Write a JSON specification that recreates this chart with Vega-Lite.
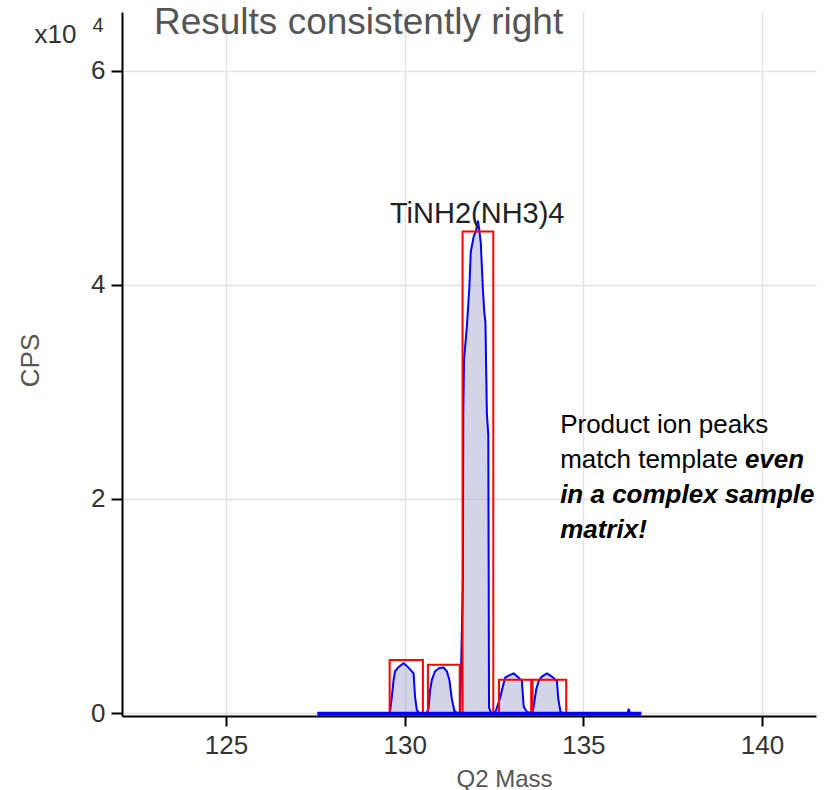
{
  "$schema": "https://vega.github.io/schema/vega-lite/v6.json",
  "width": 694,
  "height": 704,
  "autosize": "none",
  "padding": {"left": 122, "top": 12, "right": 18, "bottom": 74},
  "background": "white",
  "config": {
    "view": {"stroke": null},
    "font": "Liberation Sans",
    "axis": {
      "domainColor": "#000000",
      "domainWidth": 2,
      "tickColor": "#000000",
      "tickWidth": 2,
      "tickSize": 10,
      "labelFont": "Liberation Sans",
      "labelFontSize": 26,
      "labelColor": "#333333",
      "labelPadding": 6,
      "gridColor": "#e2e2e2",
      "gridWidth": 1.5,
      "titleFont": "Liberation Sans",
      "titleFontWeight": "normal",
      "titleColor": "#555555"
    }
  },
  "datasets": {
    "spectrum": [
      {"mass": 127.56, "cps": 0},
      {"mass": 129.55, "cps": 0},
      {"mass": 129.59, "cps": 0.01},
      {"mass": 129.64, "cps": 0.15},
      {"mass": 129.69, "cps": 0.31},
      {"mass": 129.73, "cps": 0.39},
      {"mass": 129.83, "cps": 0.43},
      {"mass": 129.97, "cps": 0.465},
      {"mass": 130.06, "cps": 0.44},
      {"mass": 130.17, "cps": 0.40},
      {"mass": 130.25, "cps": 0.37},
      {"mass": 130.29, "cps": 0.15},
      {"mass": 130.34, "cps": 0.03},
      {"mass": 130.40, "cps": 0},
      {"mass": 130.62, "cps": 0},
      {"mass": 130.67, "cps": 0.05},
      {"mass": 130.71, "cps": 0.21},
      {"mass": 130.76, "cps": 0.31},
      {"mass": 130.85, "cps": 0.39},
      {"mass": 130.97, "cps": 0.42},
      {"mass": 131.09, "cps": 0.425},
      {"mass": 131.18, "cps": 0.39},
      {"mass": 131.25, "cps": 0.31},
      {"mass": 131.32, "cps": 0.13},
      {"mass": 131.39, "cps": 0.02},
      {"mass": 131.47, "cps": 0},
      {"mass": 131.55, "cps": 0},
      {"mass": 131.58, "cps": 0.43},
      {"mass": 131.63, "cps": 1.25},
      {"mass": 131.64, "cps": 2.8},
      {"mass": 131.66, "cps": 3.3},
      {"mass": 131.74, "cps": 3.61},
      {"mass": 131.81, "cps": 3.98},
      {"mass": 131.85, "cps": 4.31},
      {"mass": 131.93, "cps": 4.45},
      {"mass": 132.00, "cps": 4.51},
      {"mass": 132.05, "cps": 4.6},
      {"mass": 132.09, "cps": 4.51},
      {"mass": 132.13, "cps": 4.39},
      {"mass": 132.19, "cps": 3.95},
      {"mass": 132.23, "cps": 3.74},
      {"mass": 132.26, "cps": 3.65},
      {"mass": 132.30, "cps": 2.8},
      {"mass": 132.34, "cps": 2.6},
      {"mass": 132.36, "cps": 0.05},
      {"mass": 132.42, "cps": 0},
      {"mass": 132.52, "cps": 0},
      {"mass": 132.56, "cps": 0.03},
      {"mass": 132.67, "cps": 0.14},
      {"mass": 132.72, "cps": 0.21},
      {"mass": 132.81, "cps": 0.33},
      {"mass": 132.91, "cps": 0.35},
      {"mass": 133.05, "cps": 0.37},
      {"mass": 133.19, "cps": 0.33},
      {"mass": 133.28, "cps": 0.30},
      {"mass": 133.33, "cps": 0.06},
      {"mass": 133.42, "cps": 0.01},
      {"mass": 133.52, "cps": 0},
      {"mass": 133.57, "cps": 0},
      {"mass": 133.61, "cps": 0.06},
      {"mass": 133.68, "cps": 0.22},
      {"mass": 133.75, "cps": 0.30},
      {"mass": 133.84, "cps": 0.34},
      {"mass": 133.98, "cps": 0.37},
      {"mass": 134.12, "cps": 0.34},
      {"mass": 134.26, "cps": 0.30},
      {"mass": 134.30, "cps": 0.13},
      {"mass": 134.36, "cps": 0.01},
      {"mass": 134.42, "cps": 0},
      {"mass": 136.24, "cps": 0},
      {"mass": 136.27, "cps": 0.04},
      {"mass": 136.30, "cps": 0},
      {"mass": 136.62, "cps": 0}
    ],
    "templates": [
      {"mass": 129.58, "mass_end": 130.51, "cps": 0.495},
      {"mass": 130.65, "mass_end": 131.54, "cps": 0.45},
      {"mass": 131.62, "mass_end": 132.48, "cps": 4.5},
      {"mass": 132.64, "mass_end": 133.54, "cps": 0.31},
      {"mass": 133.58, "mass_end": 134.52, "cps": 0.31}
    ]
  },
  "layer": [
    {
      "data": {"name": "spectrum"},
      "mark": {"type": "area", "fill": "#a9a9cd", "opacity": 0.5, "interpolate": "linear"},
      "encoding": {
        "x": {
          "field": "mass", "type": "quantitative",
          "scale": {"domain": [122.09, 141.51], "nice": false, "zero": false},
          "axis": {"values": [125, 130, 135, 140], "format": "d", "title": "Q2 Mass", "titleFontSize": 24, "titleX": 382, "titleY": 70, "titleBaseline": "alphabetic"}
        },
        "y": {
          "field": "cps", "type": "quantitative",
          "scale": {"domain": [-0.028, 6.55], "nice": false, "zero": false},
          "axis": {"values": [0, 2, 4, 6], "format": "d", "title": "CPS", "titleFontSize": 26, "titleX": -92, "titleY": 348, "titleBaseline": "middle", "tickSize": 11}
        }
      }
    },
    {
      "data": {"name": "spectrum"},
      "mark": {"type": "line", "color": "#0000ff", "strokeWidth": 2, "interpolate": "linear"},
      "encoding": {
        "x": {"field": "mass", "type": "quantitative", "title": "Q2 Mass"},
        "y": {"field": "cps", "type": "quantitative", "title": "CPS"}
      }
    },
    {
      "data": {"name": "templates"},
      "mark": {"type": "rect", "fill": null, "fillOpacity": 0, "stroke": "#ff0000", "strokeWidth": 2},
      "encoding": {
        "x": {"field": "mass", "type": "quantitative", "title": "Q2 Mass"},
        "x2": {"field": "mass_end"},
        "y": {"field": "cps", "type": "quantitative", "title": "CPS"},
        "y2": {"datum": 0}
      }
    },
    {
      "data": {"values": [{}]},
      "mark": {"type": "rule", "color": "#0000ff", "strokeWidth": 4},
      "encoding": {
        "x": {"datum": 127.56, "type": "quantitative"},
        "x2": {"datum": 136.62},
        "y": {"datum": -0.008, "type": "quantitative"}
      }
    },
    {
      "data": {"values": [{}]},
      "mark": {"type": "text", "text": "Results consistently right", "font": "Liberation Sans", "fontSize": 37, "color": "#555555", "align": "left", "baseline": "alphabetic"},
      "encoding": {"x": {"datum": 122.985, "type": "quantitative"}, "y": {"datum": 6.345, "type": "quantitative"}}
    },
    {
      "data": {"values": [{}]},
      "mark": {"type": "text", "text": "x10", "font": "Liberation Sans", "fontSize": 26, "color": "#333333", "align": "center", "baseline": "alphabetic"},
      "encoding": {"x": {"datum": 120.23, "type": "quantitative"}, "y": {"datum": 6.26, "type": "quantitative"}}
    },
    {
      "data": {"values": [{}]},
      "mark": {"type": "text", "text": "4", "font": "Liberation Sans", "fontSize": 20, "color": "#333333", "align": "center", "baseline": "alphabetic"},
      "encoding": {"x": {"datum": 121.42, "type": "quantitative"}, "y": {"datum": 6.36, "type": "quantitative"}}
    },
    {
      "data": {"values": [{}]},
      "mark": {"type": "text", "text": "TiNH2(NH3)4", "font": "Liberation Sans", "fontSize": 29, "color": "#222222", "align": "center", "baseline": "alphabetic"},
      "encoding": {"x": {"datum": 132.03, "type": "quantitative"}, "y": {"datum": 4.58, "type": "quantitative"}}
    },
    {
      "data": {"values": [{}]},
      "mark": {"type": "text", "text": "Product ion peaks", "font": "Liberation Sans", "fontSize": 26, "color": "#000000", "align": "left", "baseline": "alphabetic"},
      "encoding": {"x": {"datum": 134.35, "type": "quantitative"}, "y": {"datum": 2.616, "type": "quantitative"}}
    },
    {
      "data": {"values": [{}]},
      "mark": {"type": "text", "text": "match template", "font": "Liberation Sans", "fontSize": 26, "color": "#000000", "align": "left", "baseline": "alphabetic"},
      "encoding": {"x": {"datum": 134.35, "type": "quantitative"}, "y": {"datum": 2.289, "type": "quantitative"}}
    },
    {
      "data": {"values": [{}]},
      "mark": {"type": "text", "text": "even", "font": "Liberation Sans", "fontSize": 26, "fontWeight": "bold", "fontStyle": "italic", "color": "#000000", "align": "left", "baseline": "alphabetic"},
      "encoding": {"x": {"datum": 139.52, "type": "quantitative"}, "y": {"datum": 2.289, "type": "quantitative"}}
    },
    {
      "data": {"values": [{}]},
      "mark": {"type": "text", "text": "in a complex sample", "font": "Liberation Sans", "fontSize": 26, "fontWeight": "bold", "fontStyle": "italic", "color": "#000000", "align": "left", "baseline": "alphabetic"},
      "encoding": {"x": {"datum": 134.35, "type": "quantitative"}, "y": {"datum": 1.962, "type": "quantitative"}}
    },
    {
      "data": {"values": [{}]},
      "mark": {"type": "text", "text": "matrix!", "font": "Liberation Sans", "fontSize": 26, "fontWeight": "bold", "fontStyle": "italic", "color": "#000000", "align": "left", "baseline": "alphabetic"},
      "encoding": {"x": {"datum": 134.35, "type": "quantitative"}, "y": {"datum": 1.635, "type": "quantitative"}}
    }
  ]
}
